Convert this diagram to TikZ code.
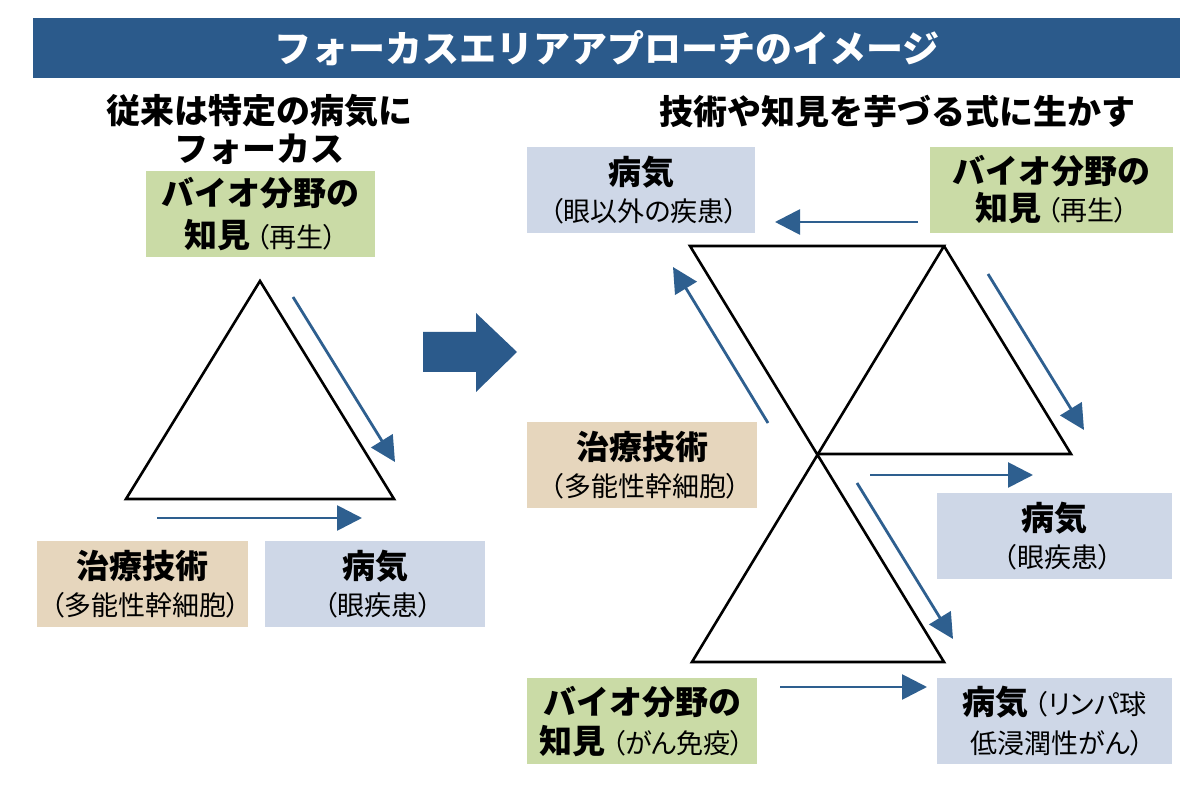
\documentclass[tikz,border=0pt]{standalone}
\usepackage{fontspec}
\setmainfont{Noto Sans CJK JP}
\newfontfamily\jpprop{Noto Sans CJK JP}[RawFeature=+palt]
\usetikzlibrary{arrows.meta}
\definecolor{navy}{HTML}{2B5A8B}
\definecolor{arrblue}{HTML}{2E5F8F}
\definecolor{boxgreen}{HTML}{CADBA6}
\definecolor{boxtan}{HTML}{E6D6BD}
\definecolor{boxblue}{HTML}{CED7E7}
\newcommand{\nb}[1]{{\kern3pt\jpprop\mdseries\fontsize{13.5}{13.5}\selectfont #1}}
\tikzset{
  infobox/.style={minimum width=#1, minimum height=43pt, inner sep=0pt, align=center,
    font=\bfseries\fontsize{16.5}{18.5}\selectfont},
  flow/.style={arrblue, line width=1.4pt, -{Triangle[length=12.5pt,width=12.5pt]}},
  tri/.style={line width=1.3pt, line join=miter}
}
\begin{document}
\begin{tikzpicture}[x=0.5pt,y=-0.5pt]
  \useasboundingbox (0,0) rectangle (1200,785);
  % title bar
  \fill[navy] (33,18) rectangle (1180,78);
  \node[white, font=\bfseries\fontsize{18.5}{20}\selectfont] (title) at (607,48) {フォーカスエリアアプローチのイメージ};
  \node[align=center, font=\bfseries\fontsize{17}{19}\selectfont] (oldhead) at (259,129) {従来は特定の病気に\\フォーカス};
  \node[font=\bfseries\fontsize{17}{19}\selectfont] (newhead) at (897,112) {技術や知見を芋づる式に生かす};

  % left: one disease only
  \node[infobox=114.5pt, fill=boxgreen] (bioL) at (260.5,214) {バイオ分野の\\[2.5pt]知見\nb{（再生）}};
  \node[infobox=105.5pt, fill=boxtan] (cureL) at (142.5,584.5) {治療技術\\\nb{（多能性幹細胞）}};
  \node[infobox=110pt, fill=boxblue] (illL) at (375,584.5) {病気\\\nb{（眼疾患）}};
  \draw[tri] (260,281) -- (126,499) -- (394,499) -- cycle;
  \coordinate (l1s) at (293,297); \coordinate (l1e) at (395,462);
  \coordinate (l2s) at (157,518); \coordinate (l2e) at (362,518);
  \draw[flow] (l1s) -- (l1e);
  \draw[flow] (l2s) -- (l2e);

  % big arrow
  \fill[navy] (423,332) -- (476,332) -- (476,313) -- (517,352) -- (476,392) -- (476,372) -- (423,372) -- cycle;

  % right: chain of uses
  \node[infobox=114pt, fill=boxblue] (illA) at (641,190) {病気\\\nb{（眼以外の疾患）}};
  \node[infobox=121.5pt, fill=boxgreen] (bioA) at (1051.5,190) {バイオ分野の\\知見\nb{（再生）}};
  \node[infobox=115pt, fill=boxtan] (cureR) at (642,465) {治療技術\\\nb{（多能性幹細胞）}};
  \node[infobox=117.5pt, fill=boxblue] (illB) at (1054.5,536) {病気\\\nb{（眼疾患）}};
  \node[infobox=115pt, fill=boxgreen] (bioB) at (642,721.5) {バイオ分野の\\[1pt]知見\nb{（がん免疫）}};
  \node[infobox=117.5pt, fill=boxblue] (illC) at (1054.5,721.5) {病気\nb{（リンパ球}\\[1pt]\nb{低浸潤性がん）}};

  \draw[tri] (690,246) -- (944,662) -- (692,662) -- (944,246) -- cycle;
  \draw[tri] (944,246) -- (1071,454) -- (817,454);

  \coordinate (r1s) at (918,222); \coordinate (r1e) at (775,222);
  \coordinate (r2s) at (768,423); \coordinate (r2e) at (673,267);
  \coordinate (r3s) at (988,274); \coordinate (r3e) at (1084,430);
  \coordinate (r4s) at (870,475); \coordinate (r4e) at (1033,475);
  \coordinate (r5s) at (857,483); \coordinate (r5e) at (953,639);
  \coordinate (r6s) at (780,687); \coordinate (r6e) at (927,687);
  \foreach \a in {r1,r2,r3,r4,r5,r6} \draw[flow] (\a s) -- (\a e);
\end{tikzpicture}
\end{document}
